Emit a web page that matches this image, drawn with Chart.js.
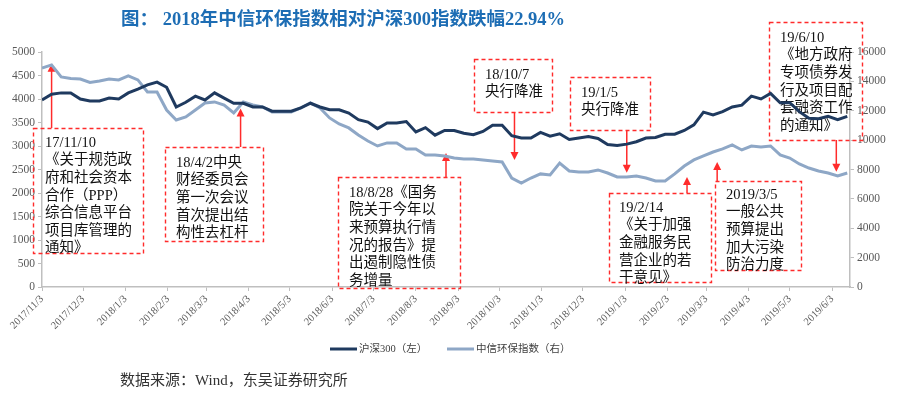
<!DOCTYPE html>
<html>
<head>
<meta charset="utf-8">
<script src="https://cdn.jsdelivr.net/npm/chart.js@4.4.1/dist/chart.umd.min.js"></script>
<style>
  html, body { margin: 0; padding: 0; background: #fff; }
  #wrap { width: 906px; height: 397px; }
</style>
</head>
<body>
<div id="wrap"><canvas id="chart" width="906" height="397"></canvas></div>
<script>
/* ---------- data ---------- */
const dates = [
  '2017/11/3','2017/11/10','2017/11/17','2017/11/24','2017/12/1','2017/12/8','2017/12/15','2017/12/22','2017/12/29',
  '2018/1/5','2018/1/12','2018/1/19','2018/1/26','2018/2/2','2018/2/9','2018/2/16','2018/2/23','2018/3/2','2018/3/9',
  '2018/3/16','2018/3/23','2018/3/30','2018/4/6','2018/4/13','2018/4/20','2018/4/27','2018/5/4','2018/5/11','2018/5/18',
  '2018/5/25','2018/6/1','2018/6/8','2018/6/15','2018/6/22','2018/6/29','2018/7/6','2018/7/13','2018/7/20','2018/7/27',
  '2018/8/3','2018/8/10','2018/8/17','2018/8/24','2018/8/31','2018/9/7','2018/9/14','2018/9/21','2018/9/28','2018/10/5',
  '2018/10/12','2018/10/19','2018/10/26','2018/11/2','2018/11/9','2018/11/16','2018/11/23','2018/11/30','2018/12/7',
  '2018/12/14','2018/12/21','2018/12/28',
  '2019/1/4','2019/1/11','2019/1/18','2019/1/25','2019/2/1','2019/2/8','2019/2/15','2019/2/22','2019/3/1','2019/3/8',
  '2019/3/15','2019/3/22','2019/3/29','2019/4/5','2019/4/12','2019/4/19','2019/4/26','2019/5/3','2019/5/10','2019/5/17',
  '2019/5/24','2019/5/31','2019/6/7','2019/6/14'
];

// 沪深300 (left axis)
const hs300 = [
  3980,4100,4130,4130,4000,3960,3960,4020,4000,
  4130,4210,4300,4360,4250,3830,3930,4060,3980,4130,4020,3910,3910,3830,3830,3740,3740,3740,3810,3910,3830,3770,
  3770,3700,3560,3510,3370,3490,3490,3520,3300,3390,3230,3330,3330,3270,3240,3310,3440,3440,3220,3170,3170,3290,
  3210,3260,3140,3170,3200,3160,3030,3010,
  3040,3090,3170,3180,3250,3250,3330,3450,3720,3660,3730,3830,3870,4060,4000,4120,3920,3920,3730,3590,3580,3630,3560,3630
];

// 中信环保指数 (right axis)
const envIndex = [
  14910,15120,14300,14200,14160,13930,14030,14160,14100,
  14370,14100,13280,13280,12050,11370,11580,12050,12530,12600,12390,11850,12600,12390,12260,11920,11920,11920,12190,12530,12190,11510,
  11100,10830,10350,9940,9600,9810,9810,9400,9400,8990,8990,8920,8780,8720,8720,8650,8580,8510,7420,7080,7420,7700,
  7630,8440,7900,7830,7830,7970,7760,7490,
  7490,7560,7420,7220,7220,7700,8240,8650,8920,9190,9400,9670,9330,9600,9530,9600,8990,8780,8380,8100,7900,7760,7560,7760
];

const tickLabels = [
  '2017/11/3','2017/12/3','2018/1/3','2018/2/3','2018/3/3','2018/4/3','2018/5/3','2018/6/3','2018/7/3','2018/8/3',
  '2018/9/3','2018/10/3','2018/11/3','2018/12/3','2019/1/3','2019/2/3','2019/3/3','2019/4/3','2019/5/3','2019/6/3'
];
const axisEnd = '2019/6/16';

const seriesNames = ['沪深300（左）', '中信环保指数（右）'];

// callouts: text, anchor date, arrow tip value (left axis)
const noteTexts = [
  ['17/11/10', '《关于规范政', '府和社会资本', '合作（PPP）', '综合信息平台', '项目库管理的', '通知》'],
  ['18/4/2中央', '财经委员会', '第一次会议', '首次提出结', '构性去杠杆'],
  ['18/8/28《国务', '院关于今年以', '来预算执行情', '况的报告》提', '出遏制隐性债', '务增量'],
  ['18/10/7', '央行降准'],
  ['19/1/5', '央行降准'],
  ['19/2/14', '《关于加强', '金融服务民', '营企业的若', '干意见》'],
  ['2019/3/5', '一般公共', '预算提出', '加大污染', '防治力度'],
  ['19/6/10', '《地方政府', '专项债券发', '行及项目配', '套融资工作', '的通知》']
];
const noteDates = ['2017/11/10','2018/3/28','2018/8/25','2018/10/14','2019/1/4','2019/2/17','2019/3/11','2019/6/6'];
const noteTips = [4750, 3800, 2850, 2700, 2430, 2340, 2660, 2450];

/* ---------- layout (pixels) ---------- */
// [x, y, w, h, textX, firstLineY]
const noteBoxes = [
  [33, 128, 110, 125, 45, 143],
  [165, 147, 98, 94, 176, 163],
  [338, 177, 122, 111, 349, 193],
  [474, 59, 78, 53, 485, 75],
  [570, 77, 80, 53, 581, 93],
  [609, 193, 102, 89, 619, 208],
  [715, 181, 86, 89, 726, 195],
  [769, 22, 93, 118, 780, 38]
];
const LINE_GAP = 17.6;

const COLORS = {
  hs: '#1F3A5F',
  env: '#8EA7C6',
  red: '#FF2B2B',
  axis: '#BFBFBF',
  tick: '#595959',
  title: '#1D6DB4'
};
const SERIF = '"Liberation Serif", "Noto Sans CJK SC", serif';

/* ---------- helpers ---------- */
const DAY = 86400000;
function toUTC(s) {
  const p = s.split('/').map(Number);
  return Date.UTC(p[0], p[1] - 1, p[2]);
}
const t0 = toUTC(dates[0]);
const dayOf = s => (toUTC(s) - t0) / DAY;

const tickDays = tickLabels.map(dayOf);

/* ---------- overlay plugin ---------- */
const overlay = {
    id: 'overlay',
    beforeDatasetsDraw(chart) {
        const ctx = chart.ctx;
        const xs = chart.scales.x;
        const ys = chart.scales.y;
        ctx.save();
        noteBoxes.forEach((b, i) => {
            // dashed box
            ctx.setLineDash([4, 3]);
            ctx.strokeStyle = COLORS.red;
            ctx.lineWidth = 1.4;
            ctx.strokeRect(b[0] + 0.5, b[1] + 0.5, b[2], b[3]);
            ctx.setLineDash([]);

            // text
            ctx.fillStyle = '#111';
            ctx.font = '14.5px ' + SERIF;
            ctx.textAlign = 'left';
            ctx.textBaseline = 'middle';
            noteTexts[i].forEach((line, k) => {
                ctx.fillText(line, b[4], b[5] + k * LINE_GAP);
            });

            // arrow
            const ax = xs.getPixelForValue(dayOf(noteDates[i]));
            const tipY = ys.getPixelForValue(noteTips[i]);
            const up = tipY < b[1];
            const startY = up ? b[1] : b[1] + b[3];
            const dir = up ? 1 : -1;
            ctx.strokeStyle = COLORS.red;
            ctx.lineWidth = 1.5;
            ctx.beginPath();
            ctx.moveTo(ax, startY);
            ctx.lineTo(ax, tipY + dir * 6);
            ctx.stroke();
            ctx.fillStyle = COLORS.red;
            ctx.beginPath();
            ctx.moveTo(ax, tipY);
            ctx.lineTo(ax - 4, tipY + dir * 8);
            ctx.lineTo(ax + 4, tipY + dir * 8);
            ctx.closePath();
            ctx.fill();
        });
        ctx.restore();
    },
    afterDraw(chart) {
        const ctx = chart.ctx;
        ctx.save();

        // title
        ctx.fillStyle = COLORS.title;
        ctx.font = 'bold 18.5px ' + SERIF;
        ctx.textAlign = 'left';
        ctx.textBaseline = 'middle';
        ctx.fillText('图： 2018年中信环保指数相对沪深300指数跌幅22.94%', 121, 20);

        // legend
        const legendItems = [
            { x: 330, color: COLORS.hs, text: seriesNames[0] },
            { x: 447, color: COLORS.env, text: seriesNames[1] }
        ];
        legendItems.forEach(it => {
            ctx.strokeStyle = it.color;
            ctx.lineWidth = 3;
            ctx.beginPath();
            ctx.moveTo(it.x, 349);
            ctx.lineTo(it.x + 27, 349);
            ctx.stroke();
            ctx.fillStyle = '#404040';
            ctx.font = '10.5px ' + SERIF;
            ctx.fillText(it.text, it.x + 29, 349);
        });

        // source
        ctx.fillStyle = '#333';
        ctx.font = '15px ' + SERIF;
        ctx.fillText('数据来源：Wind，东吴证券研究所', 120, 381);
        ctx.restore();
    }
};

/* ---------- chart ---------- */
const hsPoints = dates.map((d, i) => ({ x: dayOf(d), y: hs300[i] }));
const envPoints = dates.map((d, i) => ({ x: dayOf(d), y: envIndex[i] }));

const tickFont = { family: SERIF, size: 11.5 };
const plainNumber = v => String(v);

new Chart(document.getElementById('chart'), {
    type: 'line',
    data: {
        datasets: [
            {
                label: seriesNames[0],
                data: hsPoints,
                yAxisID: 'y',
                borderColor: COLORS.hs,
                borderWidth: 3,
                pointRadius: 0,
                tension: 0
            },
            {
                label: seriesNames[1],
                data: envPoints,
                yAxisID: 'y1',
                borderColor: COLORS.env,
                borderWidth: 3,
                pointRadius: 0,
                tension: 0
            }
        ]
    },
    options: {
        responsive: false,
        animation: false,
        layout: { padding: { top: 52, left: 0, right: 0, bottom: 0 } },
        plugins: {
            legend: { display: false },
            tooltip: { enabled: false }
        },
        scales: {
            x: {
                type: 'linear',
                min: 0,
                max: dayOf(axisEnd),
                afterBuildTicks: scale => {
                    scale.ticks = tickDays.map(v => ({ value: v }));
                },
                afterFit: scale => { scale.height = 110; },
                border: { color: COLORS.axis, width: 1.5 },
                grid: {
                    drawOnChartArea: false,
                    drawTicks: true,
                    tickLength: 4,
                    color: COLORS.axis
                },
                ticks: {
                    autoSkip: false,
                    minRotation: 45,
                    maxRotation: 45,
                    padding: 2,
                    color: COLORS.tick,
                    font: { family: SERIF, size: 10.5 },
                    callback: (v, i) => tickLabels[i]
                }
            },
            y: {
                position: 'left',
                min: 0,
                max: 5000,
                afterFit: scale => { scale.width = 42; },
                border: { color: COLORS.axis, width: 1.5 },
                grid: {
                    drawOnChartArea: false,
                    tickLength: 4,
                    color: COLORS.axis
                },
                ticks: {
                    stepSize: 500,
                    padding: 3,
                    color: COLORS.tick,
                    font: tickFont,
                    callback: plainNumber
                }
            },
            y1: {
                position: 'right',
                min: 0,
                max: 16000,
                afterFit: scale => { scale.width = 56; },
                border: { color: COLORS.axis, width: 1.5 },
                grid: {
                    drawOnChartArea: false,
                    tickLength: 4,
                    color: COLORS.axis
                },
                ticks: {
                    stepSize: 2000,
                    padding: 3,
                    color: COLORS.tick,
                    font: tickFont,
                    callback: plainNumber
                }
            }
        }
    },
    plugins: [overlay]
});
</script>
</body>
</html>
